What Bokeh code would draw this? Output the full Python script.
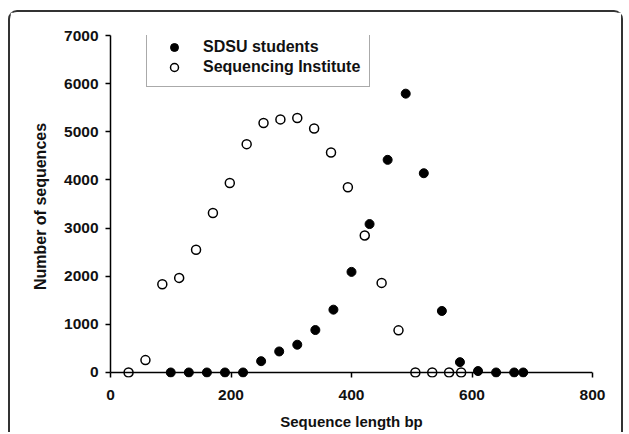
from bokeh.plotting import figure
from bokeh.models import Range1d, Legend, LegendItem, FixedTicker, Span
from bokeh.embed import file_html
from bokeh.resources import INLINE

# Data
sdsu_x = [100, 130, 160, 190, 220, 250, 280, 310, 340, 370, 400, 430, 460, 490, 520, 550, 580, 610, 640, 670, 685]
sdsu_y = [0, 0, 0, 0, 0, 235, 437, 577, 882, 1305, 2090, 3083, 4417, 5792, 4139, 1278, 215, 30, 0, 0, 0]

seq_x = [30, 58, 86, 114, 142, 170, 198, 226, 254, 282, 310, 338, 366, 394, 422, 450, 478, 506, 534, 562, 582]
seq_y = [0, 257, 1833, 1965, 2549, 3313, 3937, 4743, 5181, 5257, 5285, 5069, 4569, 3847, 2847, 1861, 875, 0, 0, 0, 0]

x_ticks = [0, 200, 400, 600, 800]
y_ticks = [0, 1000, 2000, 3000, 4000, 5000, 6000, 7000]

FONT = "Liberation Sans"
INK = "#111111"

p = figure(width=615, height=422, output_backend="svg", toolbar_location=None,
           x_range=Range1d(0, 800), y_range=Range1d(-104, 7000),
           min_border_left=100, min_border_right=33, min_border_top=23, min_border_bottom=57)
# rounded outer frame (open at the bottom, as in the reference)
p.styles = {
    "border-top": "2px solid #333333",
    "border-left": "2px solid #333333",
    "border-right": "2px solid #333333",
    "border-top-left-radius": "9px",
    "border-top-right-radius": "9px",
    "margin-left": "8px",
    "margin-top": "10px",
}

p.grid.visible = False
p.outline_line_color = None
p.background_fill_color = "white"
p.border_fill_color = "white"

# horizontal axis line at y = 0
p.add_layout(Span(location=0, dimension="width", line_color="black", line_width=1.5))

r1 = p.scatter(sdsu_x, sdsu_y, size=9, marker="circle", fill_color="black", line_color="black", line_width=1)
r2 = p.scatter(seq_x, seq_y, size=9, marker="circle", fill_color="white", line_color="black", line_width=1.5)

for ax in (p.xaxis[0], p.yaxis[0]):
    ax.axis_line_color = "black"
    ax.axis_line_width = 1.5
    ax.major_tick_line_color = "black"
    ax.major_tick_line_width = 1.5
    ax.minor_tick_line_color = None
    ax.major_label_text_font = FONT
    ax.major_label_text_font_style = "bold"
    ax.major_label_text_font_size = "15.5px"
    ax.major_label_text_color = INK
    ax.axis_label_text_font = FONT
    ax.axis_label_text_font_style = "bold"
    ax.axis_label_text_color = INK

p.xaxis.ticker = FixedTicker(ticks=x_ticks)
p.yaxis.ticker = FixedTicker(ticks=y_ticks)
p.yaxis.bounds = (0, 7000)
p.yaxis.major_tick_in = 0
p.yaxis.major_tick_out = 5
# x axis sits 5px below y=0; its ticks reach up to the y=0 line
p.xaxis.axis_line_color = None
p.xaxis.major_tick_in = 5
p.xaxis.major_tick_out = 0

p.xaxis.axis_label = "Sequence length bp"
p.yaxis.axis_label = "Number of sequences"
p.xaxis.axis_label_text_font_size = "15px"
p.yaxis.axis_label_text_font_size = "16px"
p.xaxis.major_label_standoff = 12
p.yaxis.major_label_standoff = 7
p.xaxis.axis_label_standoff = 10
p.yaxis.axis_label_standoff = 12

legend = Legend(items=[LegendItem(label="SDSU students", renderers=[r1]),
                       LegendItem(label="Sequencing Institute", renderers=[r2])],
                location=(36, 290))
legend.label_text_font = FONT
legend.label_text_font_style = "bold"
legend.label_text_font_size = "16px"
legend.label_text_color = INK
legend.label_height = 20
legend.glyph_height = 20
legend.glyph_width = 36
legend.label_standoff = 11
legend.spacing = 0
legend.padding = 9
legend.margin = 0
legend.border_line_color = "#555555"
legend.border_line_width = 1
legend.background_fill_color = "white"
legend.background_fill_alpha = 1
p.add_layout(legend)

open("out.html", "w").write(file_html(p, INLINE))
